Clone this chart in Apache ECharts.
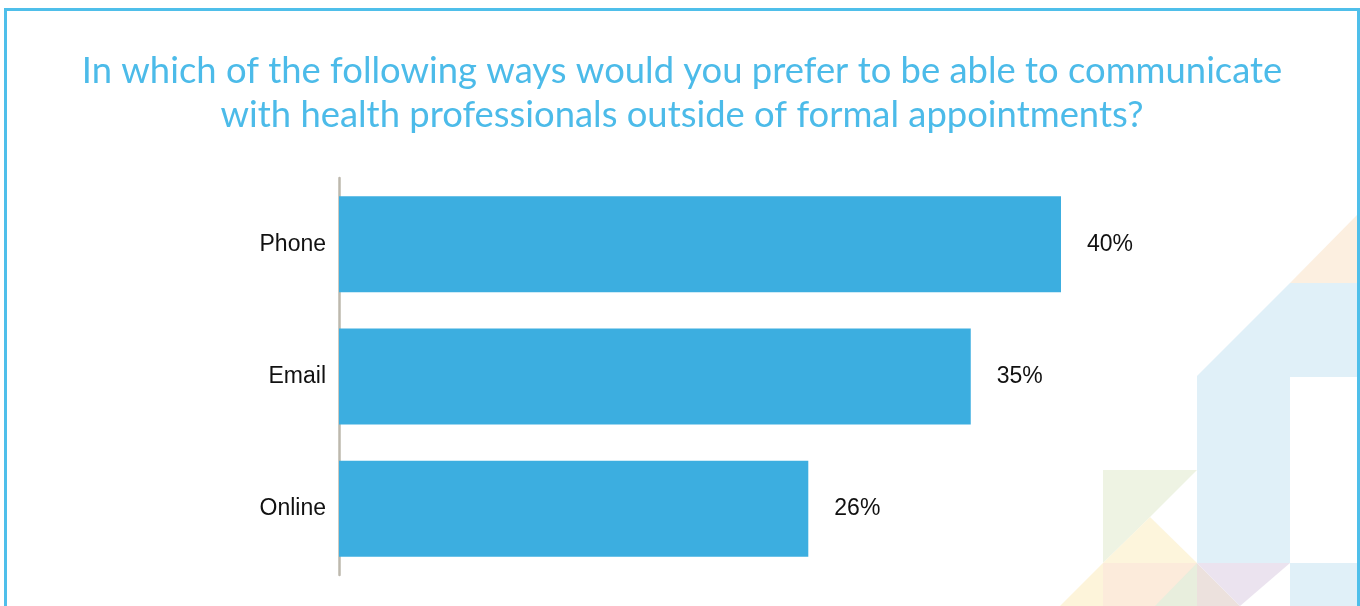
<!DOCTYPE html>
<html>
<head>
<meta charset="utf-8">
<title>Preferred communication with health professionals</title>
<script src="https://cdn.jsdelivr.net/npm/echarts@6/dist/echarts.min.js"></script>
<style>
  html, body { margin: 0; padding: 0; background: #ffffff; }
  #chart { width: 1360px; height: 606px; }
</style>
</head>
<body>
<div id="chart"></div>
<script>
// Survey answers: share of respondents preferring each channel
const categories = ['Phone', 'Email', 'Online'];
const shares = [40, 35, 26];

const titleLines = [
  'In which of the following ways would you prefer to be able to communicate',
  'with health professionals outside of formal appointments?'
];

const BLUE = '#3caee0';
const TITLE_BLUE = '#4cbbe9';

// Decorative pastel tiles in the lower-right corner
function poly(points, fill) {
  return { type: 'polygon', silent: true, z: -10, shape: { points: points }, style: { fill: fill } };
}
const decor = [
  poly([[1290, 283], [1358, 214], [1358, 283]], '#fcefe0'),
  poly([[1197, 376], [1290, 283], [1358, 283], [1358, 377], [1290, 377], [1290, 563], [1197, 563]], '#e0f0f8'),
  poly([[1290, 563], [1358, 563], [1358, 606], [1290, 606]], '#e0f0f8'),
  poly([[1103, 470], [1197, 470], [1150, 517], [1103, 563]], '#eef3e3'),
  poly([[1150, 517], [1197, 563], [1103, 563]], '#fdf5dc'),
  poly([[1103, 563], [1103, 606], [1060, 606]], '#fdf4da'),
  poly([[1103, 563], [1197, 563], [1197, 606], [1103, 606]], '#fcebdb'),
  poly([[1197, 563], [1197, 606], [1155, 606]], '#e8eedd'),
  poly([[1197, 563], [1240, 606], [1197, 606]], '#ece1dd'),
  poly([[1197, 563], [1290, 563], [1240, 606]], '#ebe3ef')
];

const chart = echarts.init(document.getElementById('chart'), null, { renderer: 'canvas' });

chart.setOption({
  backgroundColor: '#ffffff',
  animation: false,
  title: {
    text: titleLines.join('\n'),
    left: 677,
    top: 44,
    textAlign: 'center',
    textStyle: {
      color: TITLE_BLUE,
      fontFamily: 'Lato',
      fontWeight: 'normal',
      fontSize: 36.4,
      lineHeight: 44
    }
  },
  grid: {
    left: 339,
    right: 118.5,
    top: 178,
    height: 397,
    containLabel: false
  },
  xAxis: {
    type: 'value',
    min: 0,
    max: 50,
    show: false
  },
  yAxis: {
    type: 'category',
    data: categories,
    inverse: true,
    axisLine: { show: true, lineStyle: { color: '#bdb8ad', width: 2.5 } },
    axisTick: { show: false },
    splitLine: { show: false },
    axisLabel: {
      margin: 13,
      color: '#111111',
      fontSize: 23,
      fontFamily: 'Liberation Sans'
    }
  },
  series: [{
    type: 'bar',
    data: shares,
    barCategoryGap: '27.5%',
    itemStyle: { color: BLUE },
    label: {
      show: true,
      position: 'right',
      distance: 26,
      formatter: '{c}%',
      color: '#111111',
      fontSize: 23,
      fontFamily: 'Liberation Sans'
    }
  }],
  graphic: decor.concat([{
    type: 'rect',
    silent: true,
    z: 100,
    shape: { x: 5.5, y: 9.5, width: 1353, height: 640 },
    style: { fill: 'none', stroke: '#4fbfea', lineWidth: 3 }
  }])
});
</script>
</body>
</html>
